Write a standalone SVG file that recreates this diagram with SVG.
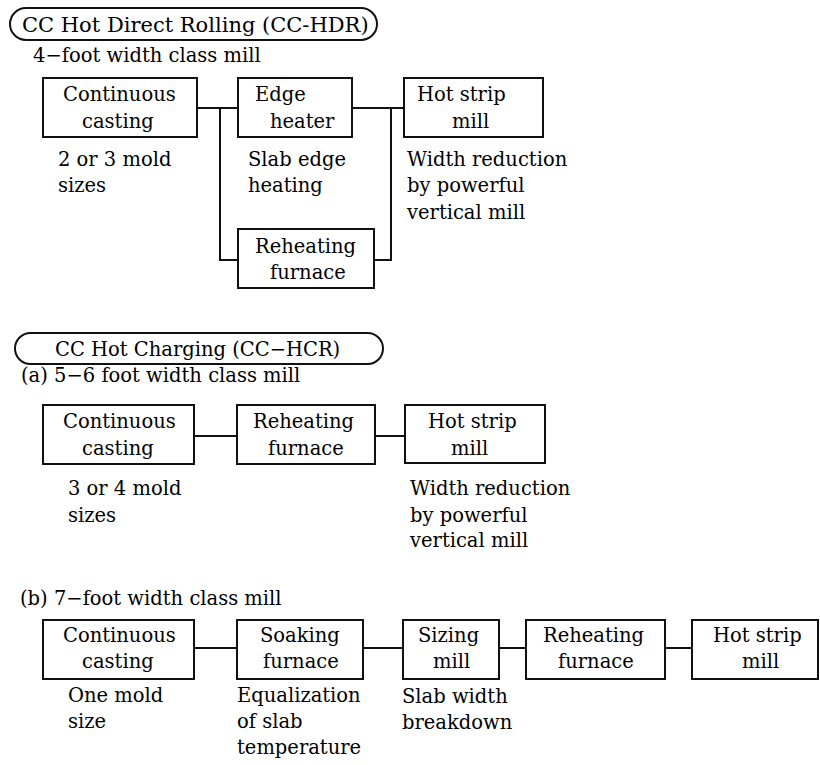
<svg xmlns="http://www.w3.org/2000/svg" width="820" height="765" viewBox="0 0 820 765">
<style>
text{font-family:"DejaVu Serif","Liberation Serif",serif;font-size:19.5px;fill:#000}
.t1{font-size:21px}
.box{fill:#fff;stroke:#111;stroke-width:2}
.pill{fill:none;stroke:#111;stroke-width:2}
.con line,.con path{stroke:#111;stroke-width:2;fill:none}
</style>
<rect width="820" height="765" fill="#fff"/>
<g id="title1">
<rect class="pill" x="10" y="8" width="367" height="32" rx="16" ry="16"/>
<text class="t1" x="22" y="32">CC Hot Direct Rolling (CC-HDR)</text>
</g>
<text x="33" y="62">4−foot width class mill</text>
<g class="con" id="connectors">
<line x1="197" y1="108" x2="238" y2="108"/>
<line x1="352" y1="108" x2="404" y2="108"/>
<path d="M220,108 V260 H238"/>
<path d="M391,108 V260 H374"/>
<line x1="194" y1="436" x2="237" y2="436"/>
<line x1="375" y1="436" x2="405" y2="436"/>
<line x1="194" y1="648" x2="237" y2="648"/>
<line x1="363" y1="648" x2="403" y2="648"/>
<line x1="499" y1="648" x2="526" y2="648"/>
<line x1="665" y1="648" x2="692" y2="648"/>
</g>
<g id="hdr-cc">
<rect class="box" x="43" y="78" width="154" height="59"/>
<text x="63" y="101">Continuous</text>
<text x="82" y="128">casting</text>
<text x="58" y="166">2 or 3 mold</text>
<text x="58" y="192">sizes</text>
</g>
<g id="hdr-edge">
<rect class="box" x="238" y="78" width="114" height="59"/>
<text x="255" y="101">Edge</text>
<text x="270" y="128">heater</text>
<text x="248" y="166">Slab edge</text>
<text x="248" y="192">heating</text>
</g>
<g id="hdr-hsm">
<rect class="box" x="404" y="78" width="139" height="59"/>
<text x="417" y="101">Hot strip</text>
<text x="452" y="128">mill</text>
<text x="407" y="166">Width reduction</text>
<text x="407" y="192">by powerful</text>
<text x="407" y="219">vertical mill</text>
</g>
<g id="hdr-reheat">
<rect class="box" x="238" y="229" width="136" height="59"/>
<text x="255" y="253">Reheating</text>
<text x="270" y="279">furnace</text>
</g>
<g id="title2">
<rect class="pill" x="15" y="333" width="368" height="31" rx="15.5" ry="15.5"/>
<text x="55" y="356">CC Hot Charging (CC−HCR)</text>
</g>
<text x="21" y="382">(a) 5−6 foot width class mill</text>
<g id="hcr-a-cc">
<rect class="box" x="43" y="405" width="151" height="59"/>
<text x="63" y="428">Continuous</text>
<text x="82" y="455">casting</text>
<text x="68" y="495">3 or 4 mold</text>
<text x="68" y="522">sizes</text>
</g>
<g id="hcr-a-reheat">
<rect class="box" x="237" y="405" width="138" height="59"/>
<text x="253" y="428">Reheating</text>
<text x="268" y="455">furnace</text>
</g>
<g id="hcr-a-hsm">
<rect class="box" x="405" y="405" width="140" height="58"/>
<text x="428" y="428">Hot strip</text>
<text x="451" y="455">mill</text>
<text x="410" y="495">Width reduction</text>
<text x="410" y="522">by powerful</text>
<text x="410" y="547">vertical mill</text>
</g>
<text x="20" y="605">(b) 7−foot width class mill</text>
<g id="hcr-b-cc">
<rect class="box" x="43" y="620" width="151" height="59"/>
<text x="63" y="642">Continuous</text>
<text x="82" y="668">casting</text>
<text x="68" y="702">One mold</text>
<text x="68" y="728">size</text>
</g>
<g id="hcr-b-soak">
<rect class="box" x="237" y="620" width="126" height="59"/>
<text x="260" y="642">Soaking</text>
<text x="263" y="668">furnace</text>
<text x="237" y="702">Equalization</text>
<text x="237" y="728">of slab</text>
<text x="237" y="754">temperature</text>
</g>
<g id="hcr-b-sizing">
<rect class="box" x="403" y="620" width="96" height="59"/>
<text x="418" y="642">Sizing</text>
<text x="433" y="668">mill</text>
<text x="402" y="703">Slab width</text>
<text x="402" y="729">breakdown</text>
</g>
<g id="hcr-b-reheat">
<rect class="box" x="526" y="620" width="139" height="59"/>
<text x="543" y="642">Reheating</text>
<text x="558" y="668">furnace</text>
</g>
<g id="hcr-b-hsm">
<rect class="box" x="692" y="620" width="126" height="59"/>
<text x="713" y="642">Hot strip</text>
<text x="742" y="668">mill</text>
</g>
</svg>
